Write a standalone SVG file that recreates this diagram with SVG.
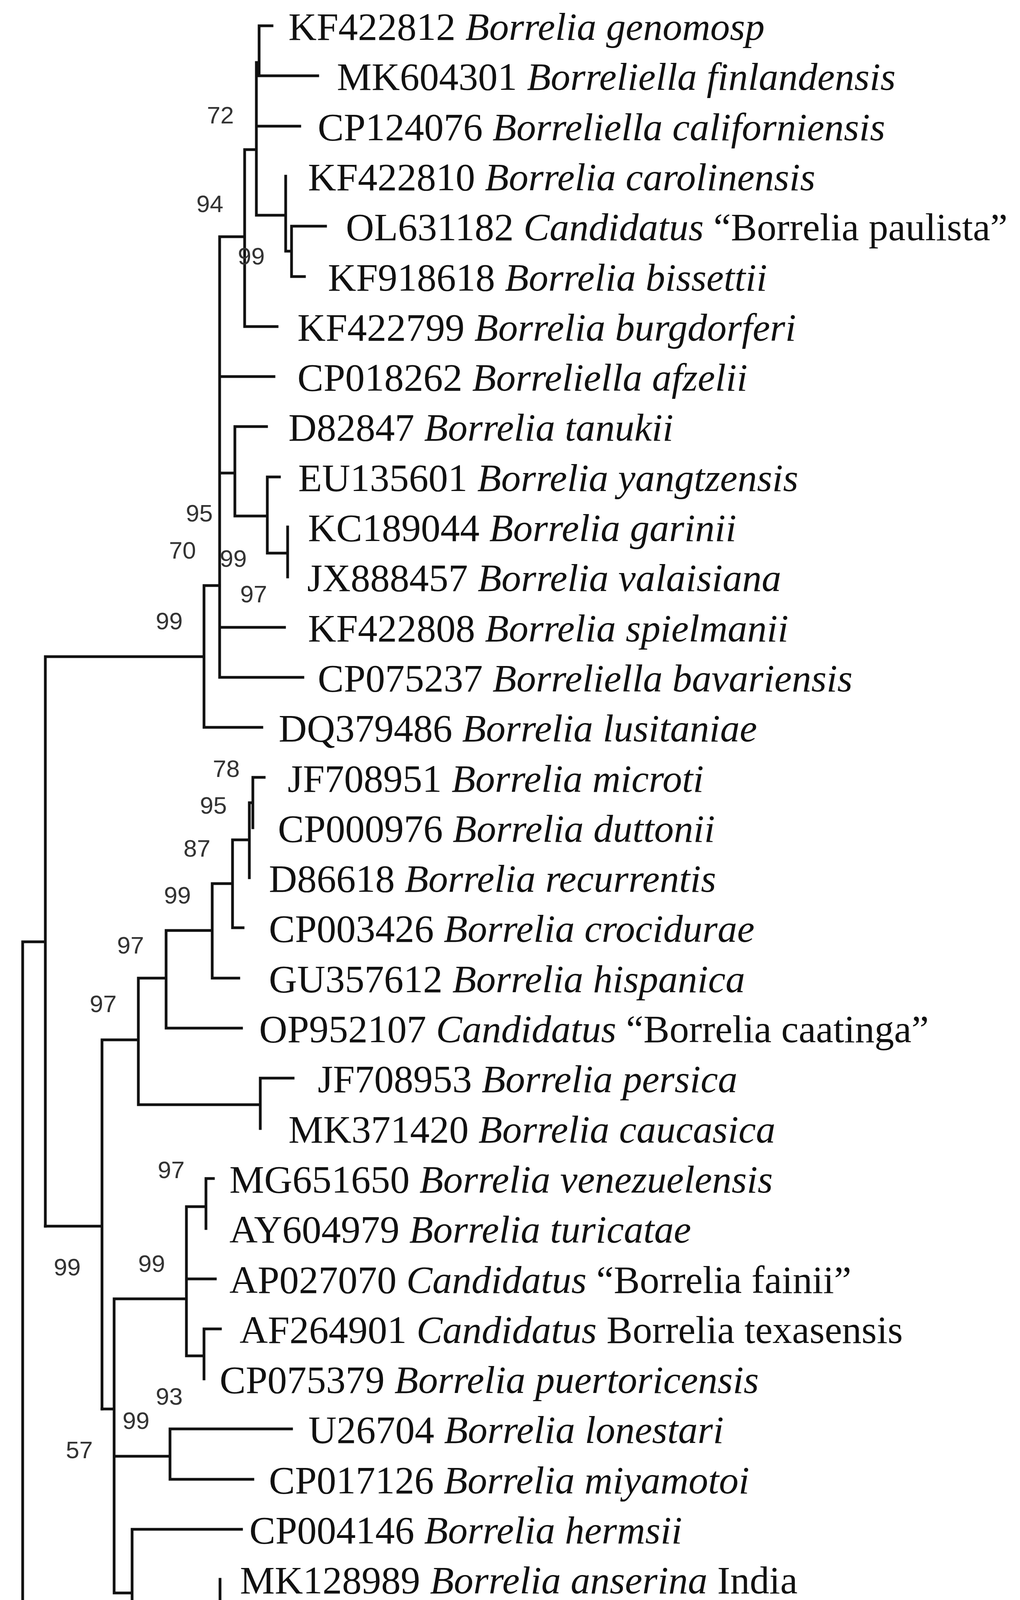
<svg xmlns="http://www.w3.org/2000/svg" width="2610" height="5206" viewBox="0 0 2610 5206">
<style>
.e{fill:none;stroke:#111;stroke-width:7;stroke-linecap:square}
.t{font-family:"Liberation Serif",serif;font-size:100px;fill:#111}
.i{font-style:italic}
.b{font-family:"Liberation Sans",sans-serif;font-size:62px;fill:#333;text-anchor:middle}
</style>
<rect width="2610" height="5206" fill="#fff"/>
<g id="connectors">
<path class="e" d="M663,66H696M663,66V194M663,194H813M656,160H663M656,160V551M656,323H767M656,551H731M731,451V643M731,643H746M746,579V708M746,579H833M746,708H779M626,383H656M626,383V836M626,836H709M562,606H626M562,606V1734M562,964H701M562,1211H601M562,1606H728M562,1734H775M601,1092V1321M601,1092H682M601,1321H684M684,1221V1416M684,1221H715M684,1416H736M736,1349V1477M522,1499H562M522,1499V1862M522,1862H670M116,1681H522M116,1681V3139M58,2411H116M58,2411V4883M58,4883H143M143,4813V4941M143,4813H493M143,4941H580"/>
<path class="e" d="M647,1990H676M647,1990V2119M638,2055H647M638,2055V2247M595,2150H638M595,2150V2375M595,2375H622M543,2262H595M543,2262V2504M543,2504H611M425,2382H543M425,2382V2632M425,2632H618M354,2504H425M354,2504V2828M354,2828H666M666,2760V2889M666,2760H750M261,2662H354M261,2662V3607M116,3139H261"/>
<path class="e" d="M261,3607H292M292,3325V4078M292,3325H477M477,3089V3471M477,3089H527M527,3017V3145M527,3017H546M477,3274H551M477,3471H522M522,3402V3530M522,3402H564M298,3728H435M435,3658V3787M435,3658H746M435,3787H647M292,4078H338M338,3915V4232M338,3915H618M338,4232H563M563,4043V4422M568,4300V4540M572,4431V4630M572,4630H593M593,4556V4685"/>
<path class="e" d="M297,5036H454M297,5003V5073M454,5003V5073"/>
</g>
<g id="bootstrap">
<text class="b" x="564" y="316">72</text><text class="b" x="537" y="543">94</text><text class="b" x="643" y="677">99</text>
<text class="b" x="510" y="1335">95</text><text class="b" x="467" y="1430">70</text><text class="b" x="597" y="1451">99</text>
<text class="b" x="649" y="1542">97</text><text class="b" x="433" y="1611">99</text><text class="b" x="579" y="1989">78</text>
<text class="b" x="546" y="2083">95</text><text class="b" x="504" y="2193">87</text><text class="b" x="454" y="2313">99</text>
<text class="b" x="334" y="2441">97</text><text class="b" x="264" y="2591">97</text><text class="b" x="438" y="3016">97</text>
<text class="b" x="172" y="3265">99</text><text class="b" x="388" y="3256">99</text><text class="b" x="433" y="3596">93</text>
<text class="b" x="348" y="3658">99</text><text class="b" x="203" y="3733">57</text><text class="b" x="251" y="4208">90</text>
<text class="b" x="473" y="4361">99</text>
<text x="518" y="4428" style="font-family:'Liberation Serif',serif;font-size:66px;fill:#222;text-anchor:middle">98</text>
</g>
<g id="leaves">
<text class="t" x="738" y="102">KF422812 <tspan class="i">Borrelia genomosp</tspan></text>
<text class="t" x="862" y="230">MK604301 <tspan class="i">Borreliella finlandensis</tspan></text>
<text class="t" x="813" y="359">CP124076 <tspan class="i">Borreliella californiensis</tspan></text>
<text class="t" x="788" y="487">KF422810 <tspan class="i">Borrelia carolinensis</tspan></text>
<text class="t" x="885" y="615">OL631182 <tspan class="i">Candidatus</tspan> “Borrelia paulista”</text>
<text class="t" x="839" y="744">KF918618 <tspan class="i">Borrelia bissettii</tspan></text>
<text class="t" x="761" y="872">KF422799 <tspan class="i">Borrelia burgdorferi</tspan></text>
<text class="t" x="761" y="1000">CP018262 <tspan class="i">Borreliella afzelii</tspan></text>
<text class="t" x="738" y="1128">D82847 <tspan class="i">Borrelia tanukii</tspan></text>
<text class="t" x="763" y="1257">EU135601 <tspan class="i">Borrelia yangtzensis</tspan></text>
<text class="t" x="788" y="1385">KC189044 <tspan class="i">Borrelia garinii</tspan></text>
<text class="t" x="786" y="1513">JX888457 <tspan class="i">Borrelia valaisiana</tspan></text>
<text class="t" x="788" y="1642">KF422808 <tspan class="i">Borrelia spielmanii</tspan></text>
<text class="t" x="813" y="1770">CP075237 <tspan class="i">Borreliella bavariensis</tspan></text>
<text class="t" x="713" y="1898">DQ379486 <tspan class="i">Borrelia lusitaniae</tspan></text>
<text class="t" x="736" y="2027">JF708951 <tspan class="i">Borrelia microti</tspan></text>
<text class="t" x="711" y="2155">CP000976 <tspan class="i">Borrelia duttonii</tspan></text>
<text class="t" x="688" y="2283">D86618 <tspan class="i">Borrelia recurrentis</tspan></text>
<text class="t" x="688" y="2411">CP003426 <tspan class="i">Borrelia crocidurae</tspan></text>
<text class="t" x="688" y="2540">GU357612 <tspan class="i">Borrelia hispanica</tspan></text>
<text class="t" x="663" y="2668">OP952107 <tspan class="i">Candidatus</tspan> “Borrelia caatinga”</text>
<text class="t" x="813" y="2796">JF708953 <tspan class="i">Borrelia persica</tspan></text>
<text class="t" x="738" y="2925">MK371420 <tspan class="i">Borrelia caucasica</tspan></text>
<text class="t" x="587" y="3053">MG651650 <tspan class="i">Borrelia venezuelensis</tspan></text>
<text class="t" x="587" y="3181">AY604979 <tspan class="i">Borrelia turicatae</tspan></text>
<text class="t" x="587" y="3310">AP027070 <tspan class="i">Candidatus</tspan> “Borrelia fainii”</text>
<text class="t" x="613" y="3438">AF264901 <tspan class="i">Candidatus</tspan> Borrelia texasensis</text>
<text class="t" x="562" y="3566">CP075379 <tspan class="i">Borrelia puertoricensis</tspan></text>
<text class="t" x="789" y="3694">U26704 <tspan class="i">Borrelia lonestari</tspan></text>
<text class="t" x="688" y="3823">CP017126 <tspan class="i">Borrelia miyamotoi</tspan></text>
<text class="t" x="638" y="3951">CP004146 <tspan class="i">Borrelia hermsii</tspan></text>
<text class="t" x="614" y="4079">MK128989 <tspan class="i">Borrelia anserina</tspan> India</text>
<text class="t" x="614" y="4208">DQ849626 <tspan class="i">Borrelia anserina</tspan> Brazil</text>
<text class="t" x="637" y="4336" font-weight="bold">OP326592 <tspan class="i">Borrelia anserina</tspan> Pakistan</text>
<text class="t" x="622" y="4464">MK128990 <tspan class="i">Borrelia anserina</tspan> India</text>
<text class="t" x="638" y="4592">KY438930 <tspan class="i">Borrelia anserina</tspan> Iran</text>
<text class="t" x="638" y="4721">MK989712 <tspan class="i">Borrelia anserina</tspan> India</text>
<text class="t" x="539" y="4849">KF422815 <tspan class="i">Borrelia turcica</tspan></text>
<text class="t" x="605" y="4977">CP025785 <tspan class="i">Candidatus</tspan> “Borreliella tachyglossi”</text>
<path d="M612,4354H2224" stroke="#111" stroke-width="7"/>
<text x="376" y="5150" style="font-family:'Liberation Serif',serif;font-size:72px;font-weight:bold;fill:#111;text-anchor:middle">0.02</text>
</g>
</svg>
